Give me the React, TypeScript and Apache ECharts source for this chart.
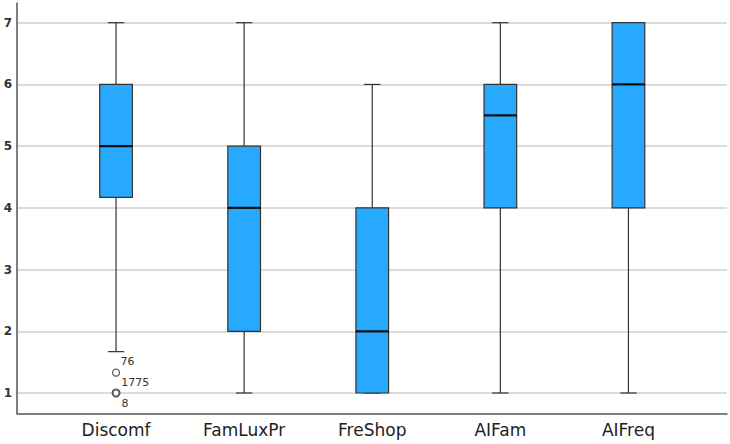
import React, { useEffect, useRef } from "react";
import * as echarts from "echarts";

const categories = ["Discomf", "FamLuxPr", "FreShop", "AIFam", "AIFreq"];
// [lower whisker, Q1, median, Q3, upper whisker]
const lowerWhisker = [1.67, 1, 1, 1, 1];
const q1Values = [4.17, 2, 1, 4, 4];
const medianValues = [5, 4, 2, 5.5, 6];
const q3Values = [6, 5, 4, 6, 7];
const upperWhisker = [7, 7, 6, 7, 7];
const yTicks = [1, 2, 3, 4, 5, 6, 7];
// outliers: category index, value, case label
const outlierCategory = [0, 0, 0];
const outlierValues = [1.67, 1.33, 1];
const outlierLabels = ["76", "1775", "8"];
const outlierVisible = [false, true, true];

const FONT = "DejaVu Sans";

export default function App() {
  const ref = useRef<HTMLDivElement>(null);
  useEffect(() => {
    if (!ref.current) return;
    const chart = echarts.init(ref.current, null, { renderer: "svg" });
    const boxData = categories.map((_, i) => [
      i,
      lowerWhisker[i],
      q1Values[i],
      medianValues[i],
      q3Values[i],
      upperWhisker[i],
    ]);
    const outlierData = outlierValues.map((v, i) => ({
      value: [outlierCategory[i], v],
      name: outlierLabels[i],
      itemStyle: outlierVisible[i]
        ? { color: "#fff", borderColor: "#333", borderWidth: outlierLabels[i] === "8" ? 2 : 1.2 }
        : { opacity: 0 },
      label: { show: true, opacity: 1 },
    }));
    const top = 22.7;
    const bottom = 444 - 393;
    chart.setOption({
      animation: false,
      grid: [
        { left: 17, right: 3, top, bottom },
        { left: 52, width: 640.5, top, bottom },
        { left: 17, right: 3, top: 3, bottom: 30.5 },
      ],
      xAxis: [
        { gridIndex: 0, type: "value", show: false, min: 0, max: 1 },
        {
          gridIndex: 1,
          type: "category",
          data: categories,
          axisLine: { show: false },
          axisTick: { show: false },
          splitLine: { show: false },
          axisLabel: {
            margin: 28,
            fontFamily: FONT,
            fontSize: 17,
            color: "#222",
          },
        },
        {
          gridIndex: 2,
          type: "value",
          min: 0,
          max: 1,
          axisLine: { show: true, onZero: false, lineStyle: { color: "#555", width: 1.5 } },
          axisTick: { show: false },
          axisLabel: { show: false },
          splitLine: { show: false },
        },
      ],
      yAxis: [
        {
          gridIndex: 0,
          type: "value",
          min: yTicks[0],
          max: yTicks[yTicks.length - 1],
          interval: 1,
          axisLine: { show: false },
          axisTick: { show: false },
          axisLabel: {
            margin: 5,
            fontFamily: FONT,
            fontSize: 12,
            fontWeight: "bold",
            color: "#333",
          },
          splitLine: { show: true, lineStyle: { color: "#cfcfcf", width: 1.5 } },
        },
        {
          gridIndex: 1,
          type: "value",
          min: yTicks[0],
          max: yTicks[yTicks.length - 1],
          show: false,
        },
        {
          gridIndex: 2,
          type: "value",
          min: 0,
          max: 1,
          axisLine: { show: true, onZero: false, lineStyle: { color: "#555", width: 1.5 } },
          axisTick: { show: false },
          axisLabel: { show: false },
          splitLine: { show: false },
        },
      ],
      series: [
        {
          type: "custom",
          xAxisIndex: 1,
          yAxisIndex: 1,
          encode: { x: 0, y: [1, 2, 3, 4, 5] },
          data: boxData,
          renderItem: (params: any, api: any) => {
            const x = api.value(0);
            const band = api.size([1, 0])[0];
            const bw = band * 0.255;
            const cw = bw / 2;
            const pLo = api.coord([x, api.value(1)]);
            const pQ1 = api.coord([x, api.value(2)]);
            const pMed = api.coord([x, api.value(3)]);
            const pQ3 = api.coord([x, api.value(4)]);
            const pHi = api.coord([x, api.value(5)]);
            const cx = pMed[0];
            const wStyle = { stroke: "#333", lineWidth: 1.2 };
            return {
              type: "group",
              children: [
                { type: "line", shape: { x1: cx, y1: pHi[1], x2: cx, y2: pQ3[1] }, style: wStyle },
                { type: "line", shape: { x1: cx, y1: pQ1[1], x2: cx, y2: pLo[1] }, style: wStyle },
                { type: "line", shape: { x1: cx - cw / 2, y1: pHi[1], x2: cx + cw / 2, y2: pHi[1] }, style: wStyle },
                { type: "line", shape: { x1: cx - cw / 2, y1: pLo[1], x2: cx + cw / 2, y2: pLo[1] }, style: wStyle },
                {
                  type: "rect",
                  shape: { x: cx - bw / 2, y: pQ3[1], width: bw, height: pQ1[1] - pQ3[1] },
                  style: { fill: "#27A9FF", stroke: "#333", lineWidth: 1.2 },
                },
                {
                  type: "line",
                  shape: { x1: cx - bw / 2, y1: pMed[1], x2: cx + bw / 2, y2: pMed[1] },
                  style: { stroke: "#111", lineWidth: 2.2 },
                },
              ],
            };
          },
          z: 5,
        },
        {
          type: "scatter",
          xAxisIndex: 1,
          yAxisIndex: 1,
          symbol: "circle",
          symbolSize: 7,
          data: outlierData,
          label: {
            show: true,
            position: "right",
            distance: 1,
            offset: [0, 10],
            formatter: (p: any) => p.name,
            fontFamily: FONT,
            fontSize: 11,
            color: "#333",
          },
          z: 6,
        },
      ],
    });
    return () => chart.dispose();
  }, []);
  return <div ref={ref} style={{ width: 730, height: 444, position: "absolute", left: 0, top: 0 }} />;
}
